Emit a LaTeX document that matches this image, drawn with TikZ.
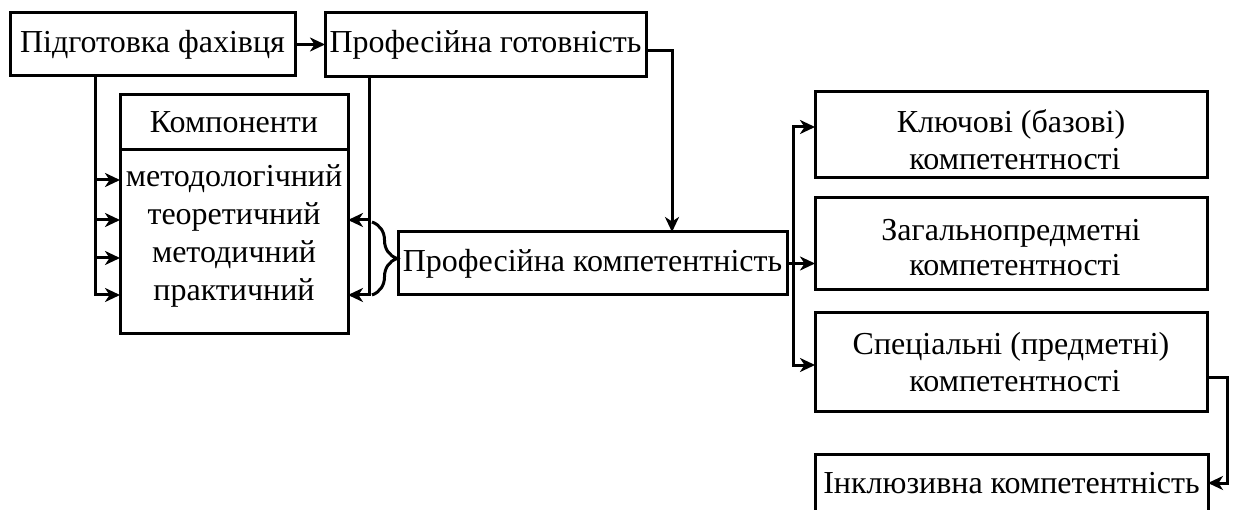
\documentclass[tikz,border=0pt]{standalone}
\usepackage{fontspec}
\setmainfont{Liberation Serif}
\usetikzlibrary{arrows.meta,decorations.pathreplacing,calc}
\newcommand{\twol}[3]{\raisebox{#1}[\height][\depth]{\begin{tabular}{@{}c@{}}#2\\#3\end{tabular}}}
\begin{document}
\begin{tikzpicture}[x=1pt,y=-1pt,
  box/.style={draw,line width=3pt,inner sep=0pt,outer sep=0pt,align=center,
    font=\fontsize{32}{37}\selectfont},
  arr/.style={line width=3pt,-{Stealth[length=15pt,width=14pt,inset=4.5pt]}},
  conn/.style={line width=3pt}]
\useasboundingbox[fill=white] (0,0) rectangle (1233,510);
% nodes
\node[box,minimum width=285,minimum height=63] (b1) at (152.5,44.5) {Підготовка фахівця};
\node[box,minimum width=321,minimum height=64] (b2) at (485.5,45) {Професійна готовність};
\node[box,minimum width=228,minimum height=55] (hdr) at (234,122.5) {Компоненти};
\node[box,minimum width=228,minimum height=183,font=\fontsize{32}{37.7}\selectfont] (body) at (234,241.5)
  {\raisebox{5.5pt}[\height][\depth]{\begin{tabular}{@{}c@{}}методологічний\\теоретичний\\методичний\\практичний\end{tabular}}};
\node[box,minimum width=389,minimum height=63] (pk) at (592.5,263.5) {Професійна компетентність};
\node[box,minimum width=392,minimum height=86] (k1) at (1011,135) {\twol{-9pt}{Ключові (базові)}{\ компетентності}};
\node[box,minimum width=392,minimum height=92,font=\fontsize{32}{34.5}\selectfont] (k2) at (1011,244) {\twol{-7pt}{Загальнопредметні}{\ компетентності}};
\node[box,minimum width=392,minimum height=98] (k3) at (1011,362) {\twol{-4pt}{Спеціальні (предметні)}{\ компетентності}};
\node[box,minimum width=393,minimum height=58] (k4) at (1011.5,483) {Інклюзивна компетентність};
% helper coordinates
\coordinate (xL) at (95,0);
\coordinate (xR) at (369,0);
\coordinate (xM) at (672,0);
\coordinate (xV) at (793,0);
\coordinate (xE) at (1227,0);
\coordinate (r1) at (0,180);
\coordinate (r2) at (0,220);
\coordinate (r3) at (0,258);
\coordinate (r4) at (0,295);
\coordinate (yb) at (0,51);
\coordinate (ya1) at (0,127);
\coordinate (ya3) at (0,365);
\coordinate (yc) at (0,377);
\coordinate (bt) at (372,222);
\coordinate (bb) at (372,295);
% connectors
\draw[arr] (b1.east) -- (b2.west |- b1.east);
\draw[arr] (b1.south -| xL) |- (body.west |- r4);
\draw[arr] (xL |- r1) -- (body.west |- r1);
\draw[arr] (xL |- r2) -- (body.west |- r2);
\draw[arr] (xL |- r3) -- (body.west |- r3);
\draw[arr] (b2.south -| xR) |- (body.east |- r4);
\draw[arr] (xR |- r2) -- (body.east |- r2);
\draw[conn,decorate,decoration={brace,amplitude=25pt}] (bt) -- (bb);
\draw[arr] (b2.east |- yb) -| (pk.north -| xM);
\draw[arr] (pk.east) -- (k2.west |- pk.east);
\draw[arr] (pk.east -| xV) |- (k1.west |- ya1);
\draw[arr] (pk.east -| xV) |- (k3.west |- ya3);
\draw[arr] (k3.east |- yc) -| (xE |- k4.east) -- (k4.east);
\end{tikzpicture}
\end{document}
